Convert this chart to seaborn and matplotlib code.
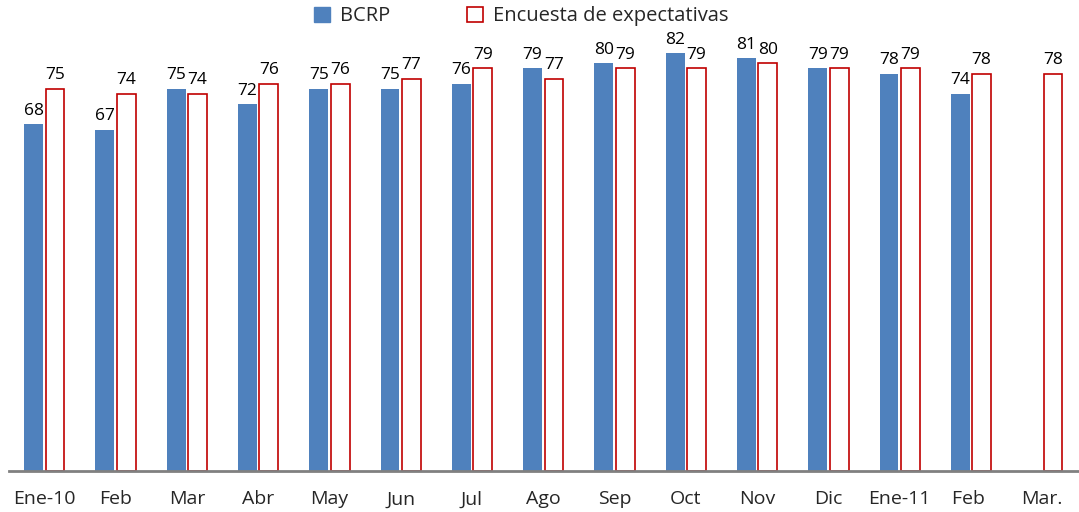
import numpy as np
import pandas as pd
import matplotlib
matplotlib.use("Agg")
import matplotlib.pyplot as plt
import seaborn as sns
from matplotlib.patches import Patch

# ── Data ──────────────────────────────────────────────────────────────────────
meses = ["Ene-10", "Feb", "Mar", "Abr", "May", "Jun", "Jul", "Ago",
         "Sep", "Oct", "Nov", "Dic", "Ene-11", "Feb ", "Mar."]
bcrp = [68, 67, 75, 72, 75, 75, 76, 79, 80, 82, 81, 79, 78, 74, np.nan]
encuesta = [75, 74, 74, 76, 76, 77, 79, 77, 79, 79, 80, 79, 79, 78, 78]
series = ["BCRP", "Encuesta de expectativas"]

df = pd.DataFrame({
    "mes": meses * 2,
    "serie": [series[0]] * len(meses) + [series[1]] * len(meses),
    "valor": bcrp + encuesta,
})

BLUE = "#4F81BD"
RED = "#C00000"

# ── Plot ──────────────────────────────────────────────────────────────────────
sns.set_style("white")
plt.rcParams["font.family"] = ["Open Sans", "DejaVu Sans"]

fig = plt.figure(figsize=(10.79, 5.12), dpi=100)
ax = fig.add_axes([0.008, 0.08, 0.991, 0.865])

sns.barplot(data=df, x="mes", y="valor", hue="serie", order=meses,
            hue_order=series, palette=[BLUE, "white"], saturation=1,
            width=0.6, gap=0.12, legend=False, ax=ax)

n = len(meses)
# blue bars: no outline; survey bars: red outline, white fill
for p in ax.containers[0]:
    p.set_edgecolor(BLUE)
    p.set_linewidth(0)
for p in ax.containers[1]:
    p.set_facecolor("white")
    p.set_edgecolor(RED)
    p.set_linewidth(1.2)

for cont in ax.containers:
    labels = ["" if np.isnan(v) else f"{v:.0f}" for v in cont.datavalues]
    ax.bar_label(cont, labels=labels, padding=4, fontsize=12.5, color="black")

ax.set_ylim(0, 86.9)
ax.set_xlim(-0.5, n - 0.5)
ax.set_xlabel("")
ax.set_ylabel("")
ax.set_yticks([])
ax.tick_params(axis="x", length=0, pad=14, labelsize=14)
for s in ["top", "right", "left"]:
    ax.spines[s].set_visible(False)
ax.spines["bottom"].set_color("#808080")
ax.spines["bottom"].set_linewidth(2)

handles = [Patch(facecolor=BLUE, edgecolor=BLUE),
           Patch(facecolor="white", edgecolor=RED, linewidth=1.2)]
fig.legend(handles, series, loc="center", bbox_to_anchor=(0.483, 0.968),
           ncol=2, frameon=False, fontsize=14.5, handlelength=0.8,
           handleheight=0.8, handletextpad=0.5, columnspacing=3.8)

fig.savefig("out.png", dpi=100)
